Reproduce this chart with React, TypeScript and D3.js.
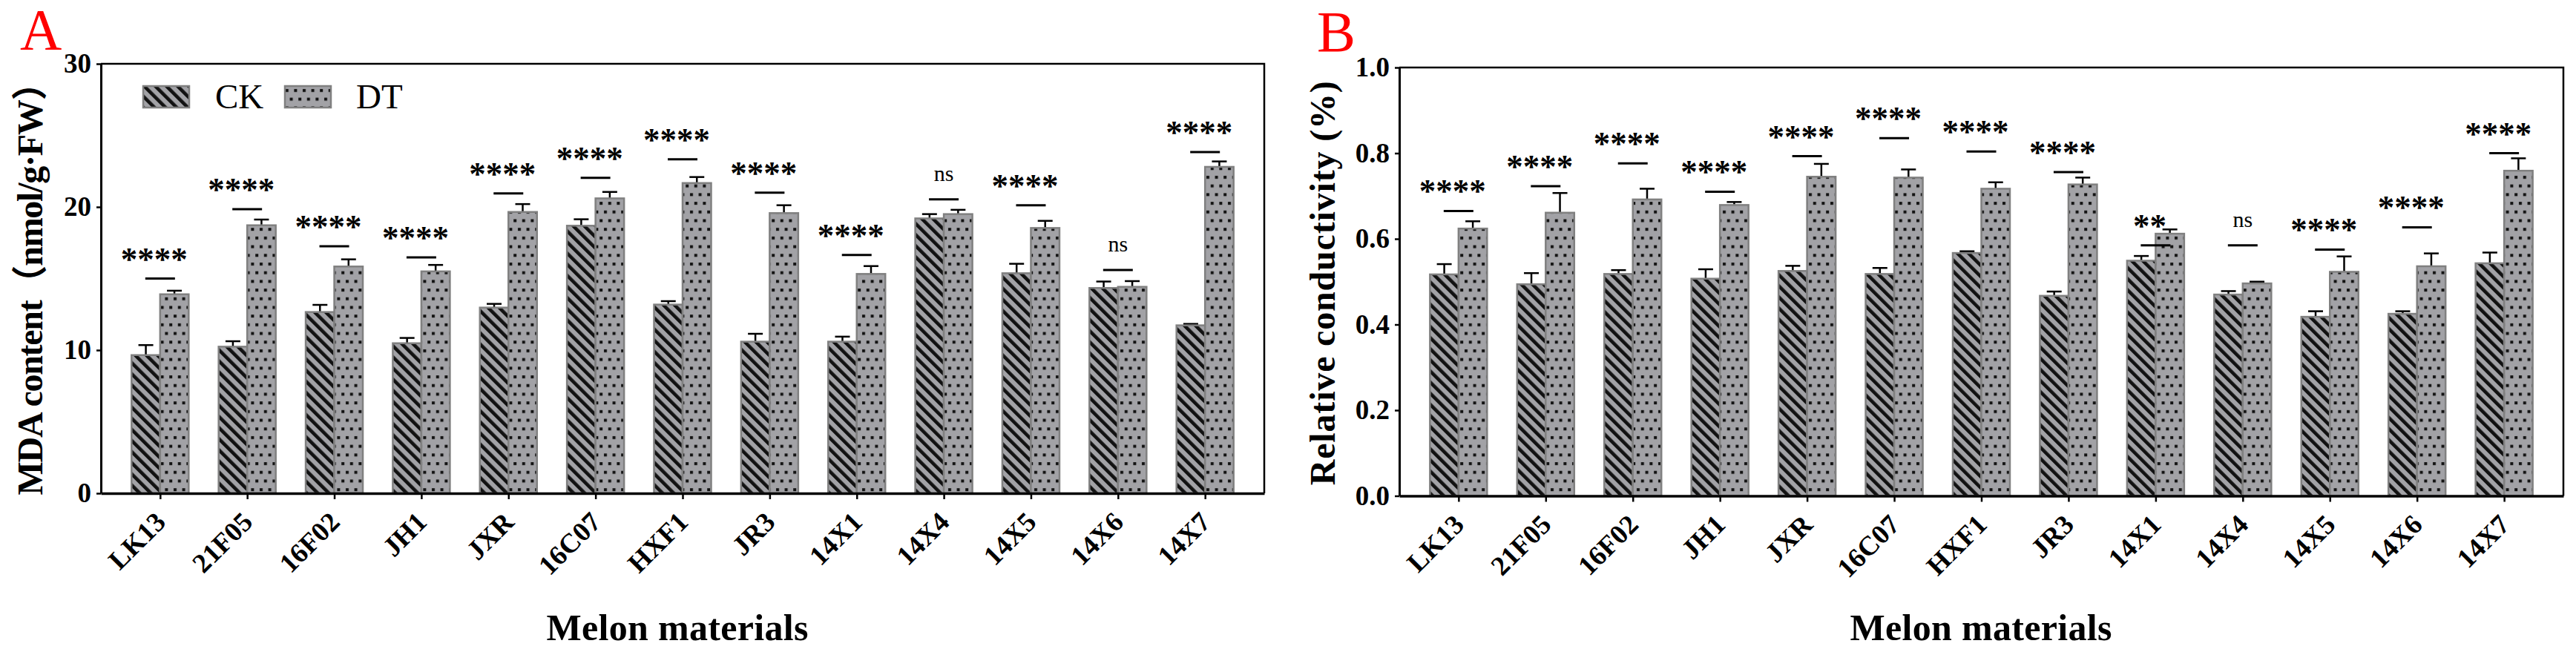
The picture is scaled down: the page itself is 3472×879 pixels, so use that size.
import { useEffect, useRef } from "react";
import * as d3 from "d3";

// melon accessions on the x axis (shared by both panels)
const categories = ["LK13", "21F05", "16F02", "JH1", "JXR", "16C07", "HXF1", "JR3", "14X1", "14X4", "14X5", "14X6", "14X7"];

// Panel A: MDA content (nmol/g·FW)
const mdaCK = [9.65, 10.24, 12.66, 10.48, 12.97, 18.69, 13.18, 10.59, 10.59, 19.2, 15.37, 14.34, 11.73];
const mdaCKErr = [0.7, 0.38, 0.5, 0.37, 0.26, 0.45, 0.24, 0.55, 0.35, 0.3, 0.66, 0.45, 0.1];
const mdaDT = [13.9, 18.72, 15.84, 15.5, 19.65, 20.6, 21.67, 19.57, 15.32, 19.5, 18.53, 14.42, 22.8];
const mdaDTErr = [0.25, 0.4, 0.5, 0.45, 0.55, 0.45, 0.42, 0.55, 0.55, 0.3, 0.5, 0.4, 0.38];
const mdaSigLevel = [15.0, 19.84, 17.25, 16.48, 20.95, 22.04, 23.33, 21.0, 16.65, 20.53, 20.12, 15.6, 23.83];
const mdaSig = ["****", "****", "****", "****", "****", "****", "****", "****", "****", "ns", "****", "ns", "****"];
const mdaTicks = [0, 10, 20, 30];

// Panel B: relative conductivity
const condCK = [0.517, 0.494, 0.518, 0.507, 0.525, 0.518, 0.567, 0.467, 0.549, 0.47, 0.418, 0.425, 0.543];
const condCKErr = [0.024, 0.026, 0.009, 0.022, 0.012, 0.014, 0.004, 0.01, 0.011, 0.008, 0.013, 0.006, 0.025];
const condDT = [0.624, 0.661, 0.692, 0.679, 0.745, 0.743, 0.717, 0.727, 0.612, 0.496, 0.523, 0.536, 0.759];
const condDTErr = [0.017, 0.046, 0.025, 0.007, 0.03, 0.019, 0.015, 0.016, 0.01, 0.004, 0.036, 0.03, 0.029];
const condSigLevel = [0.665, 0.723, 0.776, 0.71, 0.793, 0.835, 0.804, 0.756, 0.585, 0.585, 0.575, 0.627, 0.8];
const condSig = ["****", "****", "****", "****", "****", "****", "****", "****", "**", "ns", "****", "****", "****"];
const condTicks = [0, 0.2, 0.4, 0.6, 0.8, 1.0];

const seriesNames = ["CK", "DT"];

const W = 3472;
const H = 879;
const FONT = '"Liberation Serif", "Times New Roman", serif';
const CJK = '"Noto Sans CJK SC", sans-serif';
const BAR_FILL = "#a2a2a6";
const BAR_STROKE = "#808080";

interface Panel {
  letter: string;
  letterX: number;
  letterY: number;
  left: number;
  right: number;
  top: number;
  bottom: number;
  domain: [number, number];
  ticks: number[];
  fmt: (v: number) => string;
  ck: number[];
  ckErr: number[];
  dt: number[];
  dtErr: number[];
  sigLevel: number[];
  sig: string[];
  // title split into runs: [text, isCJK]
  title: [string, boolean][];
  titleX: number;
  titleLen: number;
  xTitleX: number;
  legend: boolean;
}

const panels: Panel[] = [
  {
    letter: "A", letterX: 27, letterY: 66,
    left: 136, right: 1704, top: 86, bottom: 665,
    domain: [0, 30], ticks: mdaTicks, fmt: d3.format("d"),
    ck: mdaCK, ckErr: mdaCKErr, dt: mdaDT, dtErr: mdaDTErr,
    sigLevel: mdaSigLevel, sig: mdaSig,
    title: [["MDA content", false], ["（", true], ["nmol/g·FW", false], ["）", true]],
    titleX: 57, titleLen: 580,
    xTitleX: 913, legend: true,
  },
  {
    letter: "B", letterX: 1775, letterY: 69,
    left: 1886, right: 3455, top: 91, bottom: 668.5,
    domain: [0, 1], ticks: condTicks, fmt: d3.format(".1f"),
    ck: condCK, ckErr: condCKErr, dt: condDT, dtErr: condDTErr,
    sigLevel: condSigLevel, sig: condSig,
    title: [["Relative conductivity (%)", false]],
    titleX: 1799, titleLen: 545,
    xTitleX: 2670, legend: false,
  },
];

function drawPanel(svg: d3.Selection<SVGSVGElement, unknown, null, undefined>, p: Panel) {
  const x = d3.scalePoint<string>().domain(categories).range([p.left, p.right]).padding(0.68);
  const y = d3.scaleLinear().domain(p.domain).range([p.bottom, p.top]);
  const bw = 38.5;
  const g = svg.append("g");

  // panel letter
  g.append("text")
    .attr("x", p.letterX)
    .attr("y", p.letterY)
    .style("font-family", FONT)
    .style("font-size", "78px")
    .style("fill", "#ff0000")
    .text(p.letter);

  const rows = categories.map((c, i) => ({
    c,
    ck: p.ck[i],
    ckErr: p.ckErr[i],
    dt: p.dt[i],
    dtErr: p.dtErr[i],
    level: p.sigLevel[i],
    sig: p.sig[i],
  }));

  // error bars first, bars drawn on top hide the lower half
  const err = (cx: number, v: number, e: number) => {
    g.append("line")
      .attr("x1", cx).attr("x2", cx)
      .attr("y1", y(v)).attr("y2", y(v + e))
      .attr("stroke", "#000").attr("stroke-width", 2.5);
    g.append("line")
      .attr("x1", cx - 10).attr("x2", cx + 10)
      .attr("y1", y(v + e)).attr("y2", y(v + e))
      .attr("stroke", "#000").attr("stroke-width", 2.5);
  };
  rows.forEach((r) => {
    err(x(r.c)! - bw / 2, r.ck, r.ckErr);
    err(x(r.c)! + bw / 2, r.dt, r.dtErr);
  });

  g.selectAll("rect.ck")
    .data(rows)
    .join("rect")
    .attr("class", "ck")
    .attr("x", (d) => x(d.c)! - bw)
    .attr("y", (d) => y(d.ck))
    .attr("width", bw)
    .attr("height", (d) => y(0) - y(d.ck))
    .attr("fill", "url(#hatchCK)")
    .attr("stroke", BAR_STROKE)
    .attr("stroke-width", 2.5);

  g.selectAll("rect.dt")
    .data(rows)
    .join("rect")
    .attr("class", "dt")
    .attr("x", (d) => x(d.c)!)
    .attr("y", (d) => y(d.dt))
    .attr("width", bw)
    .attr("height", (d) => y(0) - y(d.dt))
    .attr("fill", "url(#dotsDT)")
    .attr("stroke", BAR_STROKE)
    .attr("stroke-width", 2.5);

  // significance marks
  g.selectAll("line.sig")
    .data(rows)
    .join("line")
    .attr("class", "sig")
    .attr("x1", (d) => x(d.c)! - 20)
    .attr("x2", (d) => x(d.c)! + 20)
    .attr("y1", (d) => y(d.level))
    .attr("y2", (d) => y(d.level))
    .attr("stroke", "#000")
    .attr("stroke-width", 3);

  g.selectAll("text.sig")
    .data(rows)
    .join("text")
    .attr("class", "sig")
    .attr("x", (d) => x(d.c)! + (d.sig === "ns" ? 0 : -8))
    .attr("y", (d) => y(d.level) - (d.sig === "ns" ? 25 : 12))
    .attr("text-anchor", "middle")
    .style("font-family", FONT)
    .style("font-size", (d) => (d.sig === "ns" ? "30px" : "45px"))
    .style("font-weight", (d) => (d.sig === "ns" ? "normal" : "bold"))
    .text((d) => d.sig);

  // axes
  const yAxis = g
    .append("g")
    .attr("transform", `translate(${p.left},0)`)
    .call(d3.axisLeft(y).tickValues(p.ticks).tickSize(6).tickSizeOuter(0).tickPadding(7).tickFormat((v) => p.fmt(v as number)));
  yAxis.select(".domain").attr("stroke-width", 3);
  yAxis.selectAll(".tick line").attr("stroke-width", 2.5);
  yAxis
    .selectAll("text")
    .style("font-family", FONT)
    .style("font-size", "37px")
    .style("font-weight", "bold");

  const xAxis = g
    .append("g")
    .attr("transform", `translate(0,${p.bottom})`)
    .call(d3.axisBottom(x).tickSize(8).tickSizeOuter(0));
  xAxis.select(".domain").attr("stroke-width", 3.5);
  xAxis.selectAll(".tick line").attr("stroke-width", 2.5);
  xAxis
    .selectAll("text")
    .attr("x", 0)
    .attr("y", 0)
    .attr("dy", 0)
    .attr("transform", "translate(9,41) rotate(-45)")
    .attr("text-anchor", "end")
    .style("font-family", FONT)
    .style("font-size", "37px")
    .style("font-weight", "bold");

  // top and right border of the frame
  g.append("path")
    .attr("d", `M${p.left},${p.top}H${p.right}V${p.bottom}`)
    .attr("fill", "none")
    .attr("stroke", "#000")
    .attr("stroke-width", 2.5);

  // axis titles
  const yt = g
    .append("text")
    .attr("transform", `translate(${p.titleX},${(p.top + p.bottom) / 2 + 2}) rotate(-90)`)
    .attr("text-anchor", "middle")
    .attr("textLength", p.titleLen)
    .attr("lengthAdjust", "spacing")
    .style("font-family", FONT)
    .style("font-size", "48px")
    .style("font-weight", "bold");
  p.title.forEach(([t, cjk]) => {
    yt.append("tspan").style("font-family", cjk ? CJK : FONT).text(t);
  });

  g.append("text")
    .attr("x", p.xTitleX)
    .attr("y", 863)
    .attr("text-anchor", "middle")
    .attr("textLength", 353)
    .attr("lengthAdjust", "spacing")
    .style("font-family", FONT)
    .style("font-size", "50px")
    .style("font-weight", "bold")
    .text("Melon materials");

  if (p.legend) {
    const items = [
      { name: seriesNames[0], fill: "url(#hatchCK)", sx: 193, tx: 290 },
      { name: seriesNames[1], fill: "url(#dotsDT)", sx: 384, tx: 480 },
    ];
    items.forEach((it) => {
      g.append("rect")
        .attr("x", it.sx)
        .attr("y", 116)
        .attr("width", 62)
        .attr("height", 29)
        .attr("fill", it.fill)
        .attr("stroke", BAR_STROKE)
        .attr("stroke-width", 2.5);
      g.append("text")
        .attr("x", it.tx)
        .attr("y", 146)
        .style("font-family", FONT)
        .style("font-size", "47px")
        .text(it.name);
    });
  }
}

export default function App() {
  const svgRef = useRef<SVGSVGElement>(null);

  useEffect(() => {
    document.body.style.margin = "0";
    if (!svgRef.current) return;
    const svg = d3.select(svgRef.current);
    svg.selectAll("*").remove();

    const defs = svg.append("defs");
    const hatch = defs
      .append("pattern")
      .attr("id", "hatchCK")
      .attr("patternUnits", "userSpaceOnUse")
      .attr("width", 10.6)
      .attr("height", 10.6)
      .attr("patternTransform", "rotate(-45)");
    hatch.append("rect").attr("width", 10.6).attr("height", 10.6).attr("fill", BAR_FILL);
    hatch.append("rect").attr("width", 4.6).attr("height", 10.6).attr("fill", "#111");

    const dots = defs
      .append("pattern")
      .attr("id", "dotsDT")
      .attr("patternUnits", "userSpaceOnUse")
      .attr("width", 11.6)
      .attr("height", 23.4);
    dots.append("rect").attr("width", 11.6).attr("height", 23.4).attr("fill", BAR_FILL);
    dots.append("rect").attr("x", 2).attr("y", 3).attr("width", 4).attr("height", 4).attr("fill", "#111");
    dots.append("rect").attr("x", 7.8).attr("y", 14.7).attr("width", 4).attr("height", 4).attr("fill", "#111");
    dots.append("rect").attr("x", -3.8).attr("y", 14.7).attr("width", 4).attr("height", 4).attr("fill", "#111");

    panels.forEach((p) => drawPanel(svg, p));
  }, []);

  return (
    <svg
      ref={svgRef}
      width={W}
      height={H}
      viewBox={`0 0 ${W} ${H}`}
      style={{ display: "block", background: "#fff" }}
    />
  );
}
